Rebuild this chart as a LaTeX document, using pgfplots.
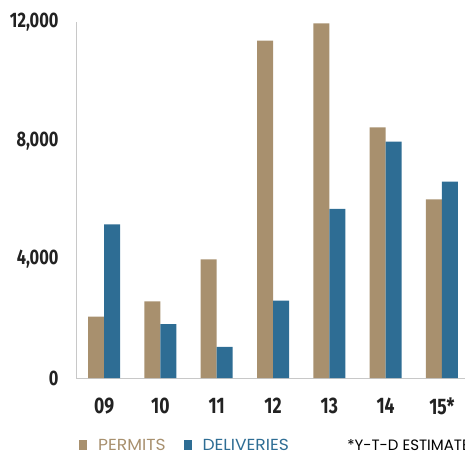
\documentclass[border=0pt]{standalone}
\usepackage{fontspec}
\usepackage{pgfplots}
\pgfplotsset{compat=1.18}
\setmainfont{Poppins}
\newfontfamily\condfont[FakeStretch=0.78]{Fira Sans}
\newfontfamily\widefont[FakeStretch=1.07]{Poppins}

\definecolor{permit}{HTML}{A8906E}
\definecolor{deliv}{HTML}{2E6D94}
\definecolor{axisgray}{HTML}{C8C8C8}
\definecolor{ticktext}{HTML}{222222}

\pgfplotstableread{
idx permits deliveries
0   2070    5180
1   2580    1820
2   4000    1050
3   11370   2610
4   11950   5700
5   8450    7970
6   6020    6620
}\housing

\begin{document}
\begin{tikzpicture}[x=1pt,y=1pt]
\useasboundingbox (0,0) rectangle (465,455);
\begin{axis}[
  at={(76pt,77pt)}, anchor=south west,
  scale only axis, width=394pt, height=356pt,
  xmin=-0.5, xmax=6.5, ymin=0, ymax=12000,
  ybar=0pt, bar width=16pt,
  axis x line*=bottom, axis y line*=left,
  axis line style={axisgray, line width=1pt, -},
  major tick length=0pt,
  xtick={0,...,6},
  xticklabels={09,10,11,12,13,14,15*},
  ytick={0,4000,8000,12000},
  scaled y ticks=false,
  /pgf/number format/assume math mode=true,
  /pgf/number format/1000 sep={,},
  ticklabel style={text=ticktext},
  yticklabel style={font=\condfont\fontsize{21}{21}\selectfont\bfseries,
    anchor=east, xshift=-14pt},
  xticklabel style={font=\condfont\fontsize{22.5}{22.5}\selectfont\bfseries,
    anchor=center, yshift=-28pt},
  legend columns=-1,
  legend style={draw=none, fill=none, inner sep=0pt, anchor=west,
    at={(axis description cs:0.0076,-0.1895)},
    font=\widefont\fontsize{16}{16}\selectfont,
    nodes={inner sep=0pt},
    /tikz/every even column/.append style={column sep=18pt}},
  legend image code/.code={%
    \fill[#1] (0pt,-5pt) rectangle (8pt,5pt);
    \path (19pt,0pt);},
  clip=false,
]
\addplot[fill=permit, draw=none] table[x=idx, y=permits] {\housing};
\addplot[fill=deliv, draw=none] table[x=idx, y=deliveries] {\housing};
\legend{\textcolor{permit}{PERMITS}, \textcolor{deliv}{DELIVERIES}}
\node[anchor=west, inner sep=0pt, font=\fontsize{15}{15}\selectfont]
  at (axis description cs:0.688,-0.1895) {*Y-T-D ESTIMATE};
\end{axis}
\end{tikzpicture}
\end{document}
